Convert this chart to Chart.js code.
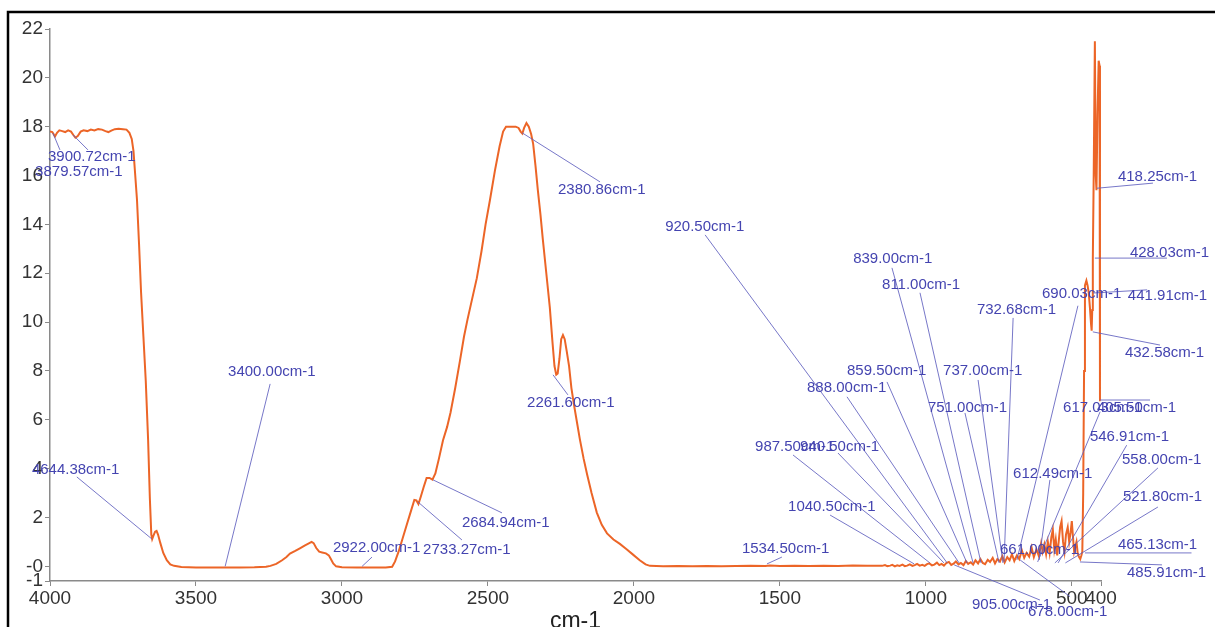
<!DOCTYPE html>
<html>
<head>
<meta charset="utf-8">
<script src="https://cdn.jsdelivr.net/npm/chart.js@4/dist/chart.umd.min.js"></script>
<style>
  html, body { margin: 0; padding: 0; background: #ffffff; }
  #wrap { width: 1215px; height: 627px; }
</style>
</head>
<body>
<div id="wrap"><canvas id="c" width="1215" height="627"></canvas></div>
<script>
// ---- Spectrum data (wavenumber in cm-1, signal value) ----
const wavenumbers = [
  4000, 3992, 3988, 3983, 3976, 3968, 3958, 3948, 3938, 3928, 3920, 3913, 3905, 3895, 3885, 3872,
  3860, 3848, 3835, 3822, 3810, 3800, 3790, 3778, 3765, 3750, 3738, 3728, 3720, 3714, 3708, 3702,
  3695, 3688, 3680, 3672, 3664, 3658, 3653, 3650, 3646, 3640, 3635, 3630, 3622, 3612, 3600, 3588,
  3575, 3550, 3500, 3450, 3400, 3350, 3300, 3260, 3245, 3225, 3205, 3190, 3178, 3160, 3144, 3128,
  3115, 3104, 3097, 3088, 3078, 3068, 3055, 3045, 3038, 3030, 3020, 3000, 2950, 2900, 2850, 2828,
  2818, 2806, 2792, 2778, 2764, 2752, 2745, 2738, 2730, 2720, 2710, 2700, 2690, 2680, 2668, 2654,
  2640, 2628, 2612, 2596, 2582, 2570, 2555, 2538, 2522, 2508, 2493, 2476, 2460, 2448, 2438, 2420,
  2405, 2395, 2388, 2382, 2376, 2368, 2360, 2352, 2345, 2337, 2329, 2320, 2312, 2300, 2288, 2279,
  2272, 2266, 2261, 2255, 2249, 2243, 2237, 2230, 2222, 2214, 2205, 2195, 2185, 2172, 2160, 2145,
  2127, 2110, 2092, 2070, 2048, 2025, 2003, 1980, 1960, 1945, 1900, 1850, 1800, 1750, 1700, 1650,
  1600, 1550, 1534, 1500, 1450, 1400, 1350, 1300, 1250, 1200,
  1150, 1140, 1132, 1122, 1115, 1106, 1098, 1090, 1080, 1072, 1064, 1055, 1046, 1038, 1030, 1021,
  1012, 1004, 996, 988, 979, 971, 962, 954, 946, 938, 930, 921, 913, 905, 897, 888,
  880, 871, 863, 855, 846, 838, 830, 821, 813, 805, 797, 788, 780, 771, 763, 755,
  746, 738, 730, 721, 713, 705, 697, 688, 680, 671, 663, 655, 646, 638, 630, 621,
  613, 605, 600, 594, 588, 582, 576, 570, 565, 560, 555, 550, 545, 540, 535, 530,
  525, 520, 514, 509, 504, 500, 496, 492, 488, 484, 480, 476, 471, 467, 464, 461,
  458, 455, 450, 446, 442, 438, 434, 432, 430, 428, 425, 421, 418, 415.5, 412, 408,
  405, 403.5, 401
];
const intensity = [
  17.8, 17.78, 17.7, 17.6, 17.75, 17.85, 17.82, 17.78, 17.85, 17.8, 17.66, 17.55, 17.62, 17.8, 17.85, 17.82,
  17.88, 17.85, 17.9, 17.88, 17.82, 17.78, 17.84, 17.9, 17.92, 17.9, 17.88, 17.75, 17.5, 17.0, 16.0, 15.0,
  13.2, 11.2, 9.4, 7.6, 5.2, 2.8, 1.3, 1.12, 1.25, 1.42, 1.45, 1.3, 0.95, 0.55, 0.25, 0.08,
  0.02, -0.03, -0.05, -0.05, -0.05, -0.05, -0.04, -0.02, 0.02, 0.1, 0.25, 0.38, 0.52, 0.63, 0.74, 0.85,
  0.93, 1.0, 0.95, 0.75, 0.6, 0.57, 0.53, 0.45, 0.3, 0.12, 0.0, -0.04, -0.05, -0.05, -0.05, -0.02,
  0.2, 0.6, 1.15, 1.7, 2.25, 2.72, 2.7, 2.55, 2.85, 3.25, 3.62, 3.62, 3.55, 3.8, 4.4, 5.15,
  5.7, 6.3, 7.3, 8.4, 9.4, 10.1, 10.9, 11.8, 12.9, 14.0, 15.0, 16.2, 17.2, 17.8, 18.0, 18.0,
  18.0, 17.95, 17.8, 17.72, 17.95, 18.15, 18.0, 17.7, 17.3, 16.4, 15.4, 14.4, 13.4, 12.0, 10.6, 9.2,
  8.2, 7.85, 7.9, 8.5, 9.3, 9.47, 9.3, 8.8, 8.2, 7.3, 6.6, 5.9, 5.2, 4.4, 3.75, 3.0,
  2.2, 1.7, 1.35, 1.1, 0.92, 0.7, 0.48, 0.25, 0.08, 0.02, 0.0, 0.01, 0.0, 0.01, 0.0, 0.01,
  0.02, 0.01, 0.03, 0.01, 0.02, 0.01, 0.02, 0.01, 0.03, 0.02,
  0.02, 0.05, 0.01, 0.03, 0.06, 0.0, 0.04, 0.02, 0.07, 0.01, 0.03, 0.08, 0.02, 0.05, 0.1, 0.03,
  0.06, 0.02, 0.09, 0.12, 0.04, 0.07, 0.15, 0.05, 0.1, 0.03, 0.13, 0.18, 0.06, 0.11, 0.2, 0.08,
  0.14, 0.05, 0.22, 0.1, 0.17, 0.07, 0.25, 0.12, 0.3, 0.14, 0.09, 0.27, 0.18, 0.35, 0.12, 0.3,
  0.2, 0.42, 0.16, 0.38, 0.25, 0.5, 0.22, 0.45, 0.3, 0.65, 0.35, 0.55, 0.4, 0.78, 0.38, 0.7,
  0.42, 0.95, 0.6, 0.9, 0.5, 1.0, 0.55, 1.2, 1.5, 0.7, 1.1, 0.45, 1.0, 1.6, 1.85, 1.0,
  0.6, 1.3, 1.6, 1.0, 1.4, 1.85, 1.2, 0.6, 0.8, 1.0, 0.55, 0.4, 0.3, 0.45, 0.6, 3.0,
  8.0, 11.5, 11.7, 11.5, 11.2, 10.6, 9.9, 9.65, 10.5, 12.6, 16.0, 21.5, 16.0, 15.4, 18.5, 20.7,
  20.5, 6.8, 6.8
];

// ---- Axis ticks ----
const xTickValues = [4000, 3500, 3000, 2500, 2000, 1500, 1000, 500, 400];
const xTickLabels = ['4000', '3500', '3000', '2500', '2000', '1500', '1000', '500', '400'];
const yTickValues = [-0.6, 0, 2, 4, 6, 8, 10, 12, 14, 16, 18, 20, 22];
const yTickLabels = ['-1', '-0', '2', '4', '6', '8', '10', '12', '14', '16', '18', '20', '22'];

// ---- Peak labels: [text, peakWn, peakValue, leaderEndWn, leaderEndValue, textWn, textValue] ----
const peakLabels = [
  ['3900.72cm-1', 3921, 17.66, 3870, 17.05, 4007, 16.76],
  ['3879.57cm-1', 3990, 17.74, 3966, 17.05, 4051, 16.15],
  ['4644.38cm-1', 3651, 1.12, 3908, 3.66, 4062, 3.95],
  ['3400.00cm-1', 3400, 0.0, 3246, 7.47, 3390, 7.96],
  ['2922.00cm-1', 2931, 0.0, 2897, 0.38, 3031, 0.75],
  ['2733.27cm-1', 2740, 2.64, 2589, 1.08, 2722, 0.67],
  ['2684.94cm-1', 2688, 3.54, 2452, 2.19, 2589, 1.78],
  ['2380.86cm-1', 2383, 17.75, 2116, 15.74, 2260, 15.41],
  ['2261.60cm-1', 2277, 7.84, 2226, 7.02, 2366, 6.69],
  ['1534.50cm-1', 1544, 0.1, 1493, 0.38, 1630, 0.71],
  ['920.50cm-1', 927, 0.14, 1756, 13.57, 1893, 13.9],
  ['839.00cm-1', 838, 0.14, 1116, 12.22, 1249, 12.59],
  ['811.00cm-1', 811, 0.14, 1020, 11.2, 1150, 11.52],
  ['732.68cm-1', 732, 0.18, 701, 10.17, 825, 10.5],
  ['690.03cm-1', 688, 0.26, 479, 10.67, 602, 11.16],
  ['859.50cm-1', 859, 0.14, 1133, 7.55, 1270, 8.0],
  ['737.00cm-1', 736, 0.14, 821, 7.63, 941, 8.0],
  ['888.00cm-1', 886, 0.14, 1270, 6.94, 1407, 7.31],
  ['751.00cm-1', 749, 0.14, 866, 6.28, 993, 6.49],
  ['617.03cm-1', 617, 0.18, 403, 6.33, 530, 6.49],
  ['405.50cm-1', 404, 6.81, 232, 6.81, 414, 6.49],
  ['987.50cm-1', 986, 0.14, 1455, 4.56, 1585, 4.89],
  ['940.50cm-1', 938, 0.14, 1301, 4.64, 1431, 4.89],
  ['1040.50cm-1', 1040, 0.1, 1328, 2.1, 1472, 2.43],
  ['612.49cm-1', 612, 0.26, 575, 3.54, 701, 3.78],
  ['546.91cm-1', 547, 0.14, 312, 4.96, 438, 5.3],
  ['558.00cm-1', 558, 0.14, 205, 4.03, 328, 4.35],
  ['521.80cm-1', 522, 0.14, 205, 2.43, 325, 2.84],
  ['465.13cm-1', 455, 0.55, 90, 0.55, 342, 0.88],
  ['485.91cm-1', 472, 0.18, 191, 0.06, 311, -0.27],
  ['905.00cm-1', 903, 0.06, 609, -1.38, 842, -1.59],
  ['678.00cm-1', 677, 0.26, 506, -1.24, 650, -1.86],
  ['661.00cm-1', 660, 0.34, 660, 0.34, 746, 0.67],
  ['418.25cm-1', 414, 15.48, 222, 15.69, 342, 15.94],
  ['428.03cm-1', 421, 12.62, 174, 12.62, 301, 12.83],
  ['441.91cm-1', 428, 11.19, 242, 11.32, 308, 11.07],
  ['432.58cm-1', 428, 9.6, 198, 9.06, 318, 8.74]
];

const FONT = "'Liberation Sans', Arial, sans-serif";

const peakLabelPlugin = {
  id: 'peakLabels',
  afterDatasetsDraw(chart) {
    const ctx = chart.ctx;
    const xs = chart.scales.x, ys = chart.scales.y;
    ctx.save();
    ctx.lineWidth = 1;
    ctx.strokeStyle = 'rgba(95, 95, 190, 0.85)';
    peakLabels.forEach(p => {
      const x1 = xs.getPixelForValue(p[1]), y1 = ys.getPixelForValue(p[2]);
      const x2 = xs.getPixelForValue(p[3]), y2 = ys.getPixelForValue(p[4]);
      if (Math.abs(x1 - x2) + Math.abs(y1 - y2) > 1) {
        ctx.beginPath();
        ctx.moveTo(x1, y1);
        ctx.lineTo(x2, y2);
        ctx.stroke();
      }
    });
    ctx.font = '15px ' + FONT;
    ctx.fillStyle = '#4444b0';
    ctx.textAlign = 'left';
    ctx.textBaseline = 'middle';
    peakLabels.forEach(p => {
      ctx.fillText(p[0], xs.getPixelForValue(p[5]), ys.getPixelForValue(p[6]));
    });
    ctx.restore();
  }
};

const framePlugin = {
  id: 'frame',
  afterDraw(chart) {
    const ctx = chart.ctx;
    ctx.save();
    ctx.strokeStyle = '#000000';
    ctx.lineWidth = 2.5;
    ctx.beginPath();
    ctx.moveTo(8, chart.height);
    ctx.lineTo(8, 12);
    ctx.lineTo(chart.width, 12);
    ctx.stroke();
    ctx.restore();
  }
};

const points = wavenumbers.map((w, i) => ({ x: w, y: intensity[i] }));

new Chart(document.getElementById('c'), {
  type: 'line',
  data: {
    datasets: [{
      data: points,
      borderColor: '#ec6527',
      borderWidth: 2,
      pointRadius: 0,
      tension: 0,
      fill: false
    }]
  },
  options: {
    responsive: false,
    devicePixelRatio: 1,
    animation: false,
    parsing: true,
    layout: { padding: { left: 0, top: 29, right: 114, bottom: 0 } },
    plugins: { legend: { display: false }, tooltip: { enabled: false } },
    scales: {
      x: {
        type: 'linear',
        reverse: true,
        min: 400,
        max: 4000,
        afterFit(s) { s.height = 46; },
        afterBuildTicks(s) { s.ticks = xTickValues.map(v => ({ value: v })); },
        grid: { display: true, drawOnChartArea: false, drawTicks: true, tickLength: 5, color: '#8a8a8a' },
        border: { display: true, color: '#8a8a8a', width: 1.5 },
        ticks: {
          autoSkip: false, maxRotation: 0, padding: 1, color: '#333333',
          font: { family: FONT, size: 19 },
          callback: (v, i) => xTickLabels[i]
        },
        title: {
          display: true, text: 'cm-1', color: '#222222', padding: 0,
          font: { family: FONT, size: 23, lineHeight: 0.5 }
        }
      },
      y: {
        type: 'linear',
        min: -0.6,
        max: 22,
        afterFit(s) { s.width = 50; },
        afterBuildTicks(s) { s.ticks = yTickValues.map(v => ({ value: v })); },
        grid: { display: true, drawOnChartArea: false, drawTicks: true, tickLength: 5, color: '#8a8a8a' },
        border: { display: true, color: '#8a8a8a', width: 1.5 },
        ticks: {
          autoSkip: false, padding: 2, color: '#333333',
          font: { family: FONT, size: 19 },
          callback: (v, i) => yTickLabels[i]
        }
      }
    }
  },
  plugins: [peakLabelPlugin, framePlugin]
});
</script>
</body>
</html>
